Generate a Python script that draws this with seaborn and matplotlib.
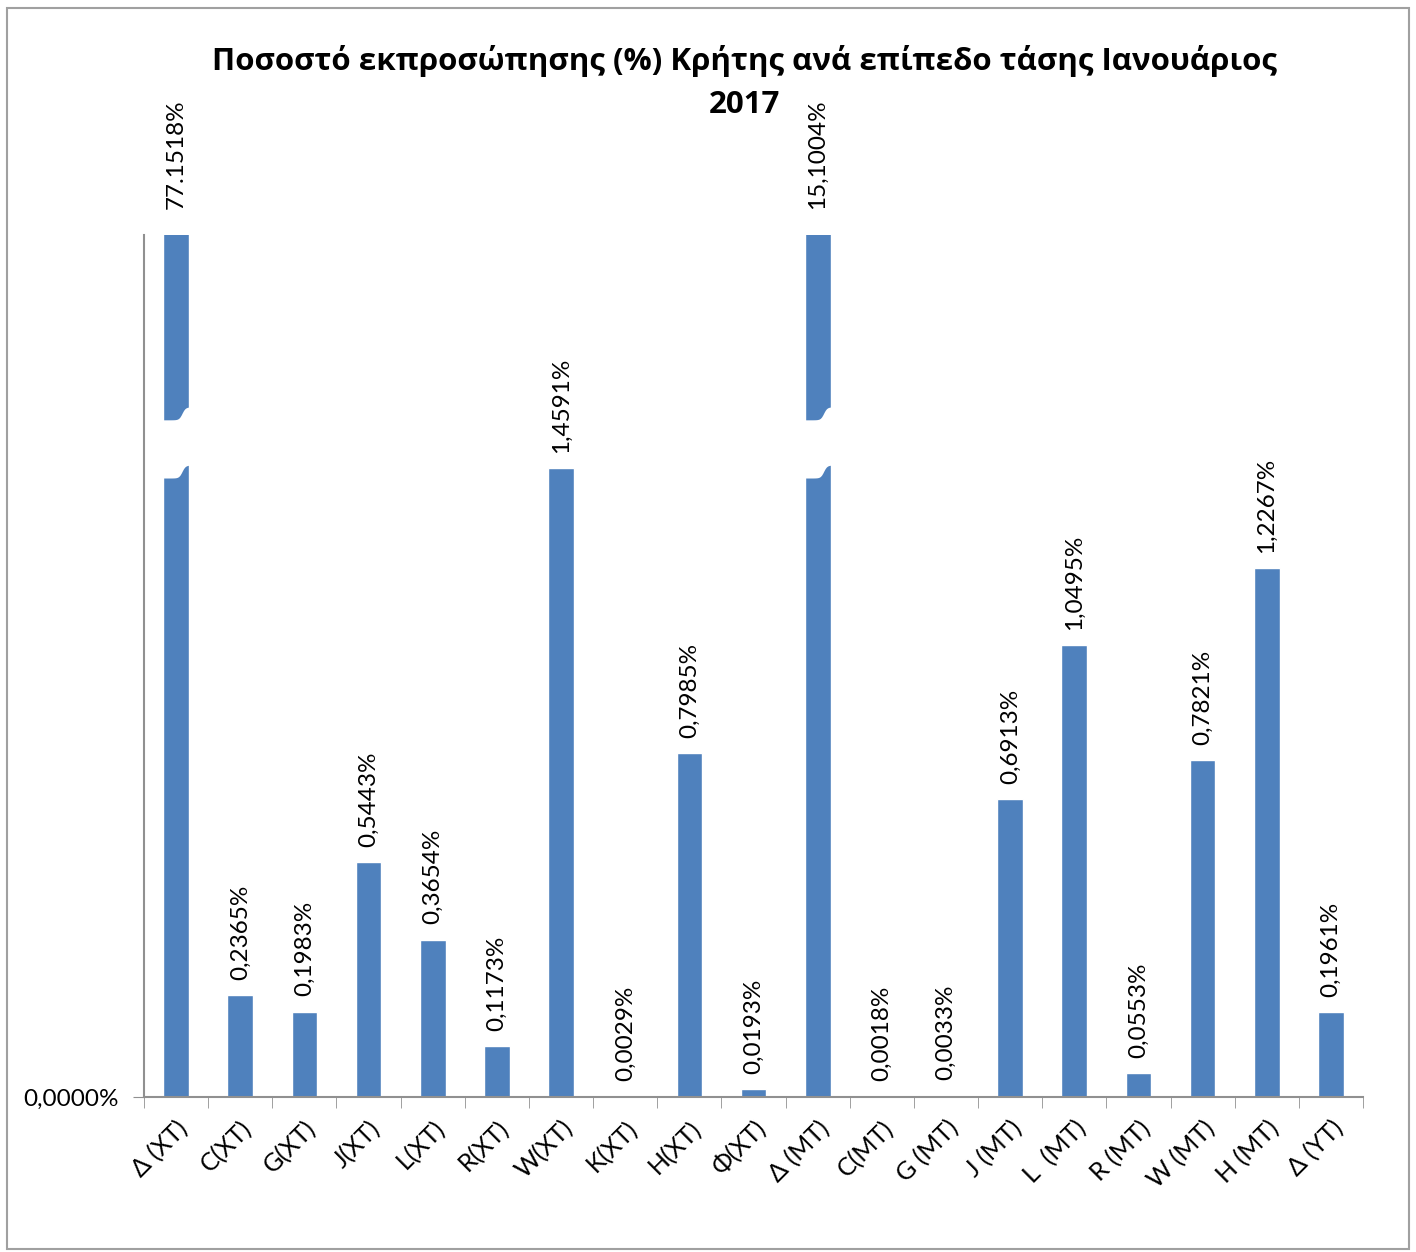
import numpy as np
import matplotlib
matplotlib.use("Agg")
import matplotlib.pyplot as plt
import seaborn as sns
import pandas as pd
from matplotlib.patches import Rectangle, Polygon

# Κατηγορίες και ποσοστά εκπροσώπησης
katigories = ["Δ (XT)", "C(XT)", "G(XT)", "J(XT)", "L(XT)", "R(XT)", "W(XT)",
              "K(XT)", "H(XT)", "Φ(XT)", "Δ (MT)", "C(MT)", "G (MT)", "J (MT)",
              "L  (MT)", "R (MT)", "W (MT)", "H (MT)", "Δ (YT)"]
pososta = [77.1518, 0.2365, 0.1983, 0.5443, 0.3654, 0.1173, 1.4591,
           0.0029, 0.7985, 0.0193, 15.1004, 0.0018, 0.0033, 0.6913,
           1.0495, 0.0553, 0.7821, 1.2267, 0.1961]
etiketes = ["77.1518%", "0,2365%", "0,1983%", "0,5443%", "0,3654%", "0,1173%",
            "1,4591%", "0,0029%", "0,7985%", "0,0193%", "15,1004%", "0,0018%",
            "0,0033%", "0,6913%", "1,0495%", "0,0553%", "0,7821%", "1,2267%",
            "0,1961%"]
titlos = ["Ποσοστό εκπροσώπησης (%) Κρήτης ανά επίπεδο τάσης Ιανουάριος", "2017"]
y_max = 2.0

df = pd.DataFrame({"kat": katigories, "pos": pososta})

sns.set_style("white")
plt.rcParams["font.family"] = ["Lato", "DejaVu Sans"]
plt.rcParams["text.color"] = "black"
plt.rcParams["xtick.labelcolor"] = "black"
plt.rcParams["ytick.labelcolor"] = "black"

fig = plt.figure(figsize=(14.16, 12.52), dpi=100)
ax = fig.add_axes([0.1017, 0.1238, 0.8609, 0.6885])
sns.barplot(data=df, x="kat", y="pos", color="#4f81bd", saturation=1,
            width=0.4, ax=ax)

ax.set_xlim(-0.5, len(katigories) - 0.5)
ax.set_ylim(0, y_max)
ax.set_xlabel("")
ax.set_ylabel("")

# ετικέτες τιμών
for i, (v, t) in enumerate(zip(pososta, etiketes)):
    y = min(v, y_max)
    off = 0.035 if v < y_max else 0.06
    ax.text(i, y + off, t, rotation=90, ha="center", va="bottom",
            fontsize=17.5, color="black", clip_on=False)

# σημάδια διακοπής για τις κομμένες μπάρες
for i, v in enumerate(pososta):
    if v > y_max:
        w = 0.28
        xs = np.linspace(i - w, i + w, 30)
        s = 1 / (1 + np.exp(-(xs - i - 0.1) * 40))
        top = 1.57 + 0.03 * s
        bot = 1.435 + 0.03 * s
        pts = np.vstack([np.column_stack([xs, top]),
                         np.column_stack([xs[::-1], bot[::-1]])])
        ax.add_patch(Polygon(pts, closed=True, facecolor="white",
                             edgecolor="none", zorder=5))

ax.set_yticks([0])
ax.set_yticklabels(["0,0000%"], fontsize=17.5)
ax.set_xticks(range(len(katigories)))
ax.set_xticklabels(katigories, rotation=45, ha="right",
                   rotation_mode="anchor", fontsize=18)
ax.tick_params(axis="x", length=0, pad=14)
ax.set_xticks(np.arange(-0.5, len(katigories), 1), minor=True)
ax.tick_params(axis="x", which="minor", length=8, color="#909090",
               direction="out", bottom=True)
ax.tick_params(axis="y", length=8, color="#909090", direction="out",
               left=True, pad=10)

for s in ["top", "right"]:
    ax.spines[s].set_visible(False)
for s in ["left", "bottom"]:
    ax.spines[s].set_color("#909090")
    ax.spines[s].set_linewidth(1.5)

# τίτλος σε δύο γραμμές
for yy, line in zip([0.951, 0.916], titlos):
    fig.text(0.526, yy, line, ha="center", va="center", fontsize=22.5,
             fontweight="bold", color="black",
             family=["Open Sans", "DejaVu Sans"])

fig.patches.append(Rectangle((0.005, 0.002), 0.99, 0.992, transform=fig.transFigure,
                             fill=False, edgecolor="#a0a0a0", linewidth=1.5))

fig.savefig("out.png", dpi=100)
